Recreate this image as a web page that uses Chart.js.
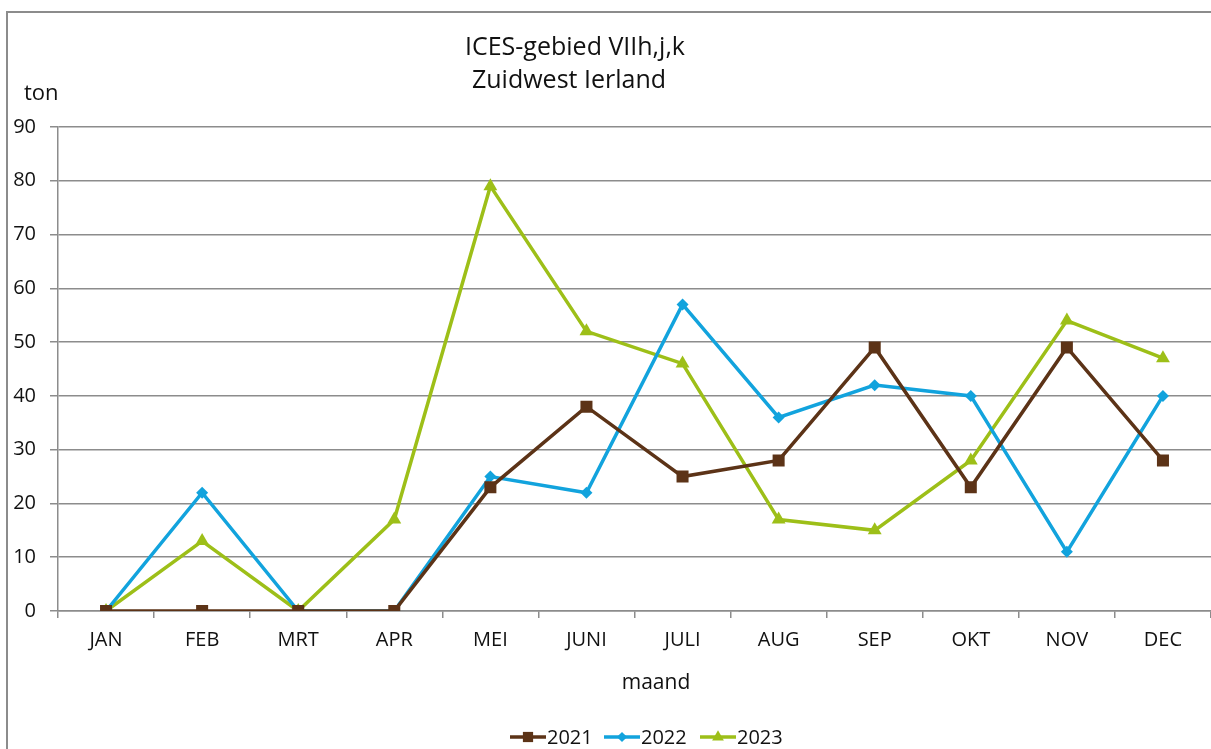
<!DOCTYPE html>
<html>
<head>
<meta charset="utf-8">
<script src="https://cdn.jsdelivr.net/npm/chart.js@4"></script>
<style>
  html, body { margin: 0; padding: 0; background: #fff; overflow: hidden; }
  #wrap { position: relative; width: 1211px; height: 749px; }
  #frame { position: absolute; left: 6px; top: 11px; width: 1300px; height: 900px;
           border: 2px solid #8c8c8c; box-sizing: border-box; }
  #chart { position: absolute; left: 0; top: 0; }
</style>
</head>
<body>
<div id="wrap">
  <div id="frame"></div>
  <canvas id="chart" width="1211" height="749"></canvas>
</div>
<script>
// ── Data ────────────────────────────────────────────────────────────
const maanden = ['JAN','FEB','MRT','APR','MEI','JUNI','JULI','AUG','SEP','OKT','NOV','DEC'];
const jaar2021 = [0, 0, 0, 0, 23, 38, 25, 28, 49, 23, 49, 28];
const jaar2022 = [0, 22, 0, 0, 25, 22, 57, 36, 42, 40, 11, 40];
const jaar2023 = [0, 13, 0, 17, 79, 52, 46, 17, 15, 28, 54, 47];
const titelRegels = ['ICES-gebied VIIh,j,k', 'Zuidwest Ierland'];

const FONT = '"Open Sans", "Noto Sans", sans-serif';
const BRUIN = '#5c3317';
const BLAUW = '#12a3dd';
const GROEN = '#9dbf18';

// ── Tekst + legenda zelf tekenen (zoals in Excel) ───────────────────
const extraTekst = {
    id: 'extraTekst',
    afterDraw(chart) {
        const ctx = chart.ctx;
        ctx.save();
        ctx.fillStyle = '#111';
        ctx.textAlign = 'center';
        ctx.textBaseline = 'middle';
        ctx.font = '25px ' + FONT;
        ctx.fillText(titelRegels[0], 575, 48);
        ctx.fillText(titelRegels[1], 569, 81);

        ctx.font = '22px ' + FONT;
        ctx.textAlign = 'left';
        ctx.fillText('ton', 24, 94);

        ctx.font = '21px ' + FONT;
        ctx.textAlign = 'center';
        ctx.fillText('maand', 656, 683);

        // legenda onderaan
        const items = [
            { x: 510, ds: chart.data.datasets[0] },
            { x: 604, ds: chart.data.datasets[1] },
            { x: 700, ds: chart.data.datasets[2] }
        ];
        const y = 737;
        items.forEach(it => {
            ctx.strokeStyle = it.ds.borderColor;
            ctx.lineWidth = 3.5;
            ctx.beginPath();
            ctx.moveTo(it.x, y);
            ctx.lineTo(it.x + 36, y);
            ctx.stroke();
            ctx.fillStyle = it.ds.borderColor;
            Chart.helpers.drawPoint(ctx, {
                pointStyle: it.ds.pointStyle,
                radius: it.ds.pointRadius * 0.85,
                borderWidth: 0,
                rotation: 0
            }, it.x + 18, y);
            ctx.fillStyle = '#111';
            ctx.textAlign = 'left';
            ctx.font = '20px ' + FONT;
            ctx.fillText(it.ds.label, it.x + 37, y + 1);
        });
        ctx.restore();
    }
};

new Chart(document.getElementById('chart'), {
    type: 'line',
    data: {
        labels: maanden,
        datasets: [
            {
                label: '2021', data: jaar2021,
                borderColor: BRUIN, backgroundColor: BRUIN,
                borderWidth: 3.5, pointStyle: 'rect', pointRadius: 8.5,
                pointBorderWidth: 0, tension: 0
            },
            {
                label: '2022', data: jaar2022,
                borderColor: BLAUW, backgroundColor: BLAUW,
                borderWidth: 3.5, pointStyle: 'rectRot', pointRadius: 6,
                pointBorderWidth: 0, tension: 0
            },
            {
                label: '2023', data: jaar2023,
                borderColor: GROEN, backgroundColor: GROEN,
                borderWidth: 3.5, pointStyle: 'triangle', pointRadius: 8,
                pointBorderWidth: 0, tension: 0
            }
        ]
    },
    options: {
        responsive: false,
        animation: false,
        layout: { autoPadding: false, padding: { top: 127, right: 0, bottom: 0, left: 0 } },
        plugins: {
            legend: { display: false },
            title: { display: false },
            tooltip: { enabled: false }
        },
        scales: {
            x: {
                offset: true,
                grid: { drawOnChartArea: false, offset: true, tickLength: 7,
                        color: '#8c8c8c', lineWidth: 1.5 },
                border: { color: '#8c8c8c', width: 1.5 },
                ticks: { color: '#111', font: { family: FONT, size: 20 }, padding: 10 },
                afterFit: (s) => { s.height = 138; s.paddingRight = 0; s.paddingLeft = 0; }
            },
            y: {
                min: 0, max: 90,
                ticks: { stepSize: 10, color: '#111', font: { family: FONT, size: 20 }, padding: 14 },
                grid: { color: '#8c8c8c', lineWidth: 1.5, tickLength: 8 },
                border: { color: '#8c8c8c', width: 1.5 },
                afterFit: (s) => { s.width = 58; s.paddingTop = 0; s.paddingBottom = 0; }
            }
        }
    },
    plugins: [extraTekst]
});
</script>
</body>
</html>
